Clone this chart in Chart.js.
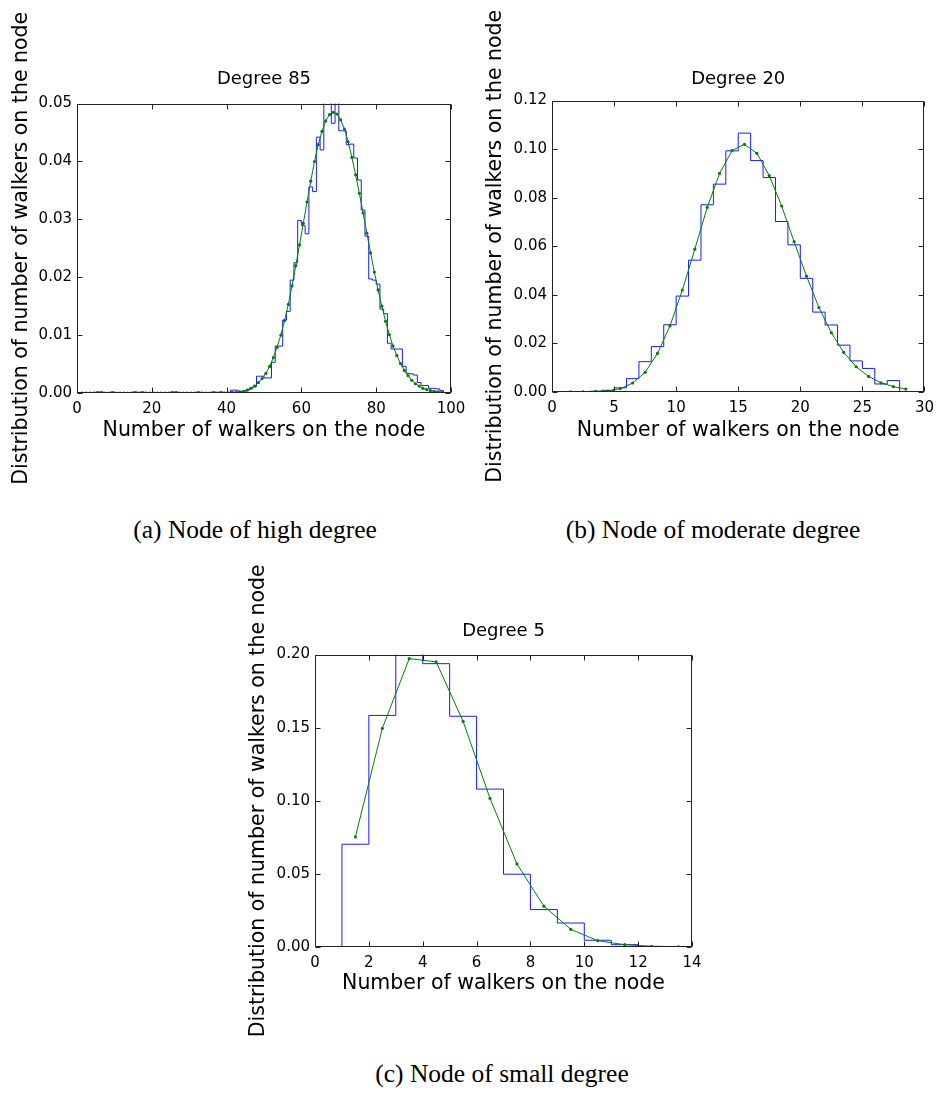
<!DOCTYPE html>
<html>
<head>
<meta charset="utf-8">
<script src="https://cdn.jsdelivr.net/npm/chart.js@4.4.1/dist/chart.umd.min.js"></script>
<style>
  body { margin: 0; background: #fff; }
  #page { position: relative; width: 941px; height: 1101px; overflow: hidden; background: #fff; }
  #page canvas { position: absolute; }
  .cap {
    position: absolute; white-space: nowrap; color: #000;
    font-family: "Liberation Serif", "Times New Roman", serif; font-size: 25.5px;
    transform: translate(-50%, -50%);
  }
</style>
</head>
<body>
<div id="page">
  <canvas id="chart-a" width="475" height="500" style="left:0;top:0"></canvas>
  <canvas id="chart-b" width="471" height="500" style="left:470px;top:0"></canvas>
  <canvas id="chart-c" width="470" height="510" style="left:240px;top:545px"></canvas>
  <div class="cap" style="left:255px;top:530px">(a) Node of high degree</div>
  <div class="cap" style="left:713px;top:530px">(b) Node of moderate degree</div>
  <div class="cap" style="left:502px;top:1074px">(c) Node of small degree</div>
</div>

<script>
const FONT    = '"DejaVu Sans", sans-serif';
const X_TITLE = 'Number of walkers on the node';
const Y_TITLE = 'Distribution of number of walkers on the node';
const COL_HIST = '#1a1aff';
const COL_FIT  = '#008000';

// ── Degree 85 ── histogram bins of width 1, first bin starts at 1
const A_FIRST_EDGE = 1;
const A_HIST = [
  0, 0, 0, 0, 0.0002, 0.0002, 0, 0, 0.0002, 0,
  0, 0, 0, 0, 0.0002, 0.0001, 0.0002, 0, 0, 0,
  0, 0, 0, 0, 0.0002, 0.0002, 0, 0, 0, 0,
  0, 0.0002, 0, 0, 0, 0.0002, 0.0001, 0.0002, 0.0001, 0.0001,
  0.0005, 0.0005, 0.0003, 0.0002, 0.0004, 0.0008, 0.0011, 0.0029, 0.0029, 0.0026,
  0.0026, 0.0053, 0.0081, 0.0081, 0.0126, 0.0141, 0.0195, 0.0225, 0.0298, 0.0289,
  0.0275, 0.0356, 0.0348, 0.0442, 0.0420, 0.0520, 0.0520, 0.0466, 0.0520, 0.0453,
  0.0453, 0.0429, 0.0430, 0.0406, 0.0368, 0.0316, 0.0271, 0.0197, 0.0195, 0.0188,
  0.0145, 0.0137, 0.0086, 0.0076, 0.0076, 0.0076, 0.0046, 0.0034, 0.0033, 0.0031,
  0.0018, 0.0013, 0.0013, 0.0008, 0.0008, 0.0007, 0.0004,
];
// fitted curve, one point per bin centre starting at 1.5
const A_FIRST_CENTER = 1.5;
const A_FIT = [
  0, 0, 0, 0, 0, 0, 0, 0, 0, 0,
  0, 0, 0, 0, 0, 0, 0, 0, 0, 0,
  0, 0, 0, 0, 0, 0, 0, 0, 0, 0,
  0, 0, 0, 0, 0, 0, 0, 0, 0, 0,
  0.0001, 0.0001, 0.0002, 0.0003, 0.0005, 0.0008, 0.0012, 0.0018, 0.0025, 0.0034,
  0.0046, 0.0061, 0.0079, 0.0100, 0.0125, 0.0153, 0.0185, 0.0220, 0.0256, 0.0293,
  0.0330, 0.0366, 0.0400, 0.0429, 0.0452, 0.0470, 0.0481, 0.0485, 0.0482, 0.0472,
  0.0456, 0.0434, 0.0407, 0.0377, 0.0345, 0.0311, 0.0276, 0.0242, 0.0209, 0.0178,
  0.0150, 0.0124, 0.0101, 0.0081, 0.0065, 0.0051, 0.0039, 0.0030, 0.0022, 0.0016,
  0.0012, 0.0008, 0.0006, 0.0004, 0.0003, 0.0002, 0.0001,
];
const A_X_TICKS = { max: 100, step: 20 };
const A_Y_TICKS = { max: 0.05, step: 0.01 };

// ── Degree 20 ──
const B_FIRST_EDGE = 1;
const B_HIST = [
  0.0001, 0.0001, 0.0003, 0.0007, 0.0017, 0.0055, 0.0125, 0.0187, 0.0277, 0.0395,
  0.0543, 0.0771, 0.0856, 0.0993, 0.1066, 0.0953, 0.0883, 0.0702, 0.0606, 0.0468,
  0.0329, 0.0276, 0.0193, 0.0128, 0.0097, 0.0033, 0.0047,
];
const B_FIRST_CENTER = 1.5;
const B_FIT = [
  0.0001, 0.0001, 0.0003, 0.0004, 0.0014, 0.0037, 0.0081, 0.0159, 0.0272, 0.0420,
  0.0588, 0.0760, 0.0900, 0.0994, 0.1020, 0.0983, 0.0891, 0.0766, 0.0619, 0.0477,
  0.0348, 0.0244, 0.0163, 0.0104, 0.0064, 0.0038, 0.0022, 0.0012,
];
const B_X_TICKS = { max: 30, step: 5 };
const B_Y_TICKS = { max: 0.12, step: 0.02 };

// ── Degree 5 ──
const C_FIRST_EDGE = 1;
const C_HIST = [
  0.0703, 0.1584, 0.2050, 0.1938, 0.1578, 0.1080, 0.0498, 0.0256, 0.0164, 0.0046,
  0.0016, 0.0004,
];
const C_FIRST_CENTER = 1.5;
const C_FIT = [
  0.0753, 0.1495, 0.1973, 0.1950, 0.1543, 0.1016, 0.0568, 0.0279, 0.0121, 0.0043,
  0.0016, 0.0005, 0.0001,
];
const C_X_TICKS = { max: 14, step: 2 };
const C_Y_TICKS = { max: 0.20, step: 0.05 };

// outline of a step histogram, closed down to zero at both ends
function stepPoints(firstEdge, heights) {
  const pts = [{ x: firstEdge, y: 0 }];
  heights.forEach((h, i) => pts.push({ x: firstEdge + i, y: h }));
  pts.push({ x: firstEdge + heights.length, y: heights[heights.length - 1] });
  pts.push({ x: firstEdge + heights.length, y: 0 });
  return pts;
}

function fitPoints(firstCenter, values) {
  return values.map((v, i) => ({ x: firstCenter + i, y: v }));
}

// box round the axes and inward ticks on all four sides (matplotlib classic look)
const frameTicks = {
  id: 'frameTicks',
  afterDatasetsDraw(chart) {
    const { ctx, chartArea: a, scales: { x, y } } = chart;
    const L = Math.round(a.left) + 0.5, R = Math.round(a.right) - 0.5;
    const T = Math.round(a.top) + 0.5, B = Math.round(a.bottom) - 0.5;
    const len = 5;
    ctx.save();
    ctx.strokeStyle = '#222';
    ctx.lineWidth = 1;
    ctx.beginPath();
    x.ticks.forEach(t => {
      const px = Math.round(x.getPixelForValue(t.value)) + 0.5;
      ctx.moveTo(px, B); ctx.lineTo(px, B - len);
      ctx.moveTo(px, T); ctx.lineTo(px, T + len);
    });
    y.ticks.forEach(t => {
      const py = Math.round(y.getPixelForValue(t.value)) + 0.5;
      ctx.moveTo(L, py); ctx.lineTo(L + len, py);
      ctx.moveTo(R, py); ctx.lineTo(R - len, py);
    });
    ctx.stroke();
    ctx.strokeRect(L, T, R - L, B - T);
    ctx.restore();
  },
};

function panelOptions(p) {
  const b = p.box;
  return {
    responsive: false,
    animation: false,
    devicePixelRatio: 1,
    layout: { padding: { left: 0, top: 0, right: b.padRight, bottom: 0 } },
    plugins: {
      legend: { display: false },
      tooltip: { enabled: false },
      title: {
        display: true, text: p.title, fullSize: false, color: '#000',
        font: { family: FONT, size: 18, weight: 'normal' },
        padding: { top: b.titleTop, bottom: b.titleBottom },
      },
    },
    scales: {
      x: {
        type: 'linear', min: 0, max: p.xTicks.max,
        grid: { display: false, drawTicks: false },
        border: { display: false },
        ticks: {
          stepSize: p.xTicks.step, autoSkip: false, maxRotation: 0, padding: 7,
          color: '#000', font: { family: FONT, size: 15 },
          callback: v => String(v),
        },
        title: {
          display: true, text: X_TITLE, color: '#000',
          font: { family: FONT, size: 20.5 },
          padding: { top: 0, bottom: b.xTitlePad },
        },
        afterFit: s => { s.height = b.xHeight; },
      },
      y: {
        type: 'linear', min: 0, max: p.yTicks.max,
        grid: { display: false, drawTicks: false },
        border: { display: false },
        ticks: {
          stepSize: p.yTicks.step, autoSkip: false, padding: 5,
          color: '#000', font: { family: FONT, size: 15 },
          callback: v => v.toFixed(2),
        },
        title: {
          display: true, text: Y_TITLE, color: '#000',
          font: { family: FONT, size: 20.5 },
          padding: { top: b.yTitlePad, bottom: 0 },
        },
        afterFit: s => { s.width = b.yWidth; },
      },
    },
  };
}

function makePanel(p) {
  new Chart(document.getElementById(p.id), {
    type: 'line',
    data: {
      datasets: [
        {
          data: fitPoints(p.firstCenter, p.fit),
          borderColor: COL_FIT, backgroundColor: COL_FIT,
          borderWidth: 1, pointRadius: 1.6, pointBorderWidth: 0,
          tension: 0, fill: false, order: 1,
        },
        {
          data: stepPoints(p.firstEdge, p.hist),
          borderColor: COL_HIST, borderWidth: 1, stepped: 'before',
          pointRadius: 0, fill: false, order: 2,
        },
      ],
    },
    options: panelOptions(p),
    plugins: [frameTicks],
  });
}

const PANELS = [
  {
    id: 'chart-a', title: 'Degree 85',
    firstEdge: A_FIRST_EDGE, hist: A_HIST, firstCenter: A_FIRST_CENTER, fit: A_FIT,
    xTicks: A_X_TICKS, yTicks: A_Y_TICKS,
    box: { yWidth: 77, xHeight: 107, padRight: 24, titleTop: 69, titleBottom: 13, yTitlePad: 9, xTitlePad: 57 },
  },
  {
    id: 'chart-b', title: 'Degree 20',
    firstEdge: B_FIRST_EDGE, hist: B_HIST, firstCenter: B_FIRST_CENTER, fit: B_FIT,
    xTicks: B_X_TICKS, yTicks: B_Y_TICKS,
    box: { yWidth: 82, xHeight: 108, padRight: 12, titleTop: 69, titleBottom: 10, yTitlePad: 13, xTitlePad: 57 },
  },
  {
    id: 'chart-c', title: 'Degree 5',
    firstEdge: C_FIRST_EDGE, hist: C_HIST, firstCenter: C_FIRST_CENTER, fit: C_FIT,
    xTicks: C_X_TICKS, yTicks: C_Y_TICKS,
    box: { yWidth: 75, xHeight: 108, padRight: 18, titleTop: 76, titleBottom: 12, yTitlePad: 6, xTitlePad: 59 },
  },
];

PANELS.forEach(makePanel);
</script>
</body>
</html>
